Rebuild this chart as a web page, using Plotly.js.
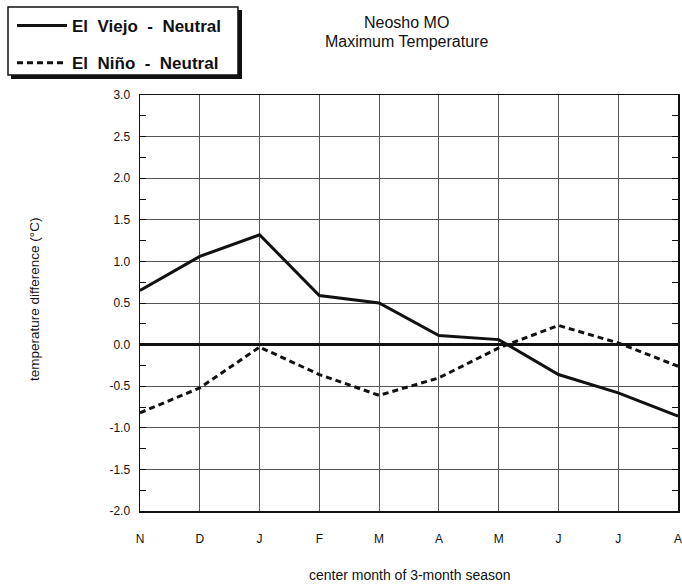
<!DOCTYPE html>
<html>
<head>
<meta charset="utf-8">
<script src="https://cdn.plot.ly/plotly-3.0.1.min.js"></script>
<style>html,body{margin:0;padding:0;background:#fff;}#chart{width:682px;height:585px;}</style>
</head>
<body>
<div id="chart"></div>
<script>
var months = ["N", "D", "J", "F", "M", "A", "M", "J", "J", "A"];
var elViejo = [0.65, 1.06, 1.32, 0.59, 0.50, 0.11, 0.06, -0.36, -0.58, -0.86];
var elNino = [-0.82, -0.52, -0.03, -0.36, -0.61, -0.40, -0.04, 0.23, 0.02, -0.26];
var yTickVals = [3.0, 2.5, 2.0, 1.5, 1.0, 0.5, 0.0, -0.5, -1.0, -1.5, -2.0];
var yTickText = ["3.0", "2.5", "2.0", "1.5", "1.0", "0.5", "0.0", "-0.5", "-1.0", "-1.5", "-2.0"];

var xIdx = months.map(function (m, i) { return i; });
var W = 682, H = 585, L = 140, R = 4, T = 95, B = 74;
var pw = W - L - R, ph = H - T - B;
function px(x) { return (x - L) / pw; }
function py(y) { return (H - B - y) / ph; }

var font = "Liberation Sans, Arial, Helvetica, sans-serif";

var traces = [
  {x: xIdx, y: elViejo, mode: "lines", name: "El  Viejo  -  Neutral", legendgroup: "a",
   line: {color: "#111", width: 3}},
  {x: xIdx, y: elNino, mode: "lines", name: "El  Niño  -  Neutral", legendgroup: "b",
   line: {color: "#111", width: 3, dash: "6px,4px"}}
];

var layout = {
  width: W, height: H,
  margin: {l: L, r: R, t: T, b: B, pad: 0},
  paper_bgcolor: "#fff", plot_bgcolor: "#fff",
  font: {family: font, color: "#111"},
  showlegend: true,
  legend: {x: px(12), y: py(8), xanchor: "left", yanchor: "top",
    bgcolor: "rgba(0,0,0,0)", borderwidth: 0,
    font: {size: 17, family: font, color: "#111", weight: "bold"}, tracegroupgap: 12,
    itemwidth: 50},
  xaxis: {range: [0, 9], tickmode: "array", tickvals: xIdx, ticktext: months,
    showgrid: true, gridcolor: "#555", gridwidth: 1, zeroline: false,
    showline: true, linecolor: "#111", linewidth: 1.5, mirror: true,
    ticks: "", tickfont: {size: 12, family: font, color: "#111"}, ticklabelstandoff: 16,
    ticklabeloverflow: "allow", fixedrange: true},
  yaxis: {range: [-2, 3], tickmode: "array", tickvals: yTickVals, ticktext: yTickText,
    showgrid: true, gridcolor: "#555", gridwidth: 1,
    zeroline: true, zerolinecolor: "#111", zerolinewidth: 3,
    showline: true, linecolor: "#111", linewidth: 1.5, mirror: "allticks",
    ticks: "inside", ticklen: 6, tickcolor: "#111", tickwidth: 1,
    tickfont: {size: 12, family: font, color: "#111"}, ticklabelstandoff: 6,
    minor: {dtick: 0.25, ticks: "inside", ticklen: 6, tickcolor: "#111", showgrid: false},
    fixedrange: true},
  shapes: [
    {type: "rect", xref: "paper", yref: "paper",
     x0: px(11), x1: px(242), y0: py(79), y1: py(10),
     fillcolor: "#111", line: {width: 0}, layer: "below"},
    {type: "rect", xref: "paper", yref: "paper",
     x0: px(8), x1: px(238), y0: py(75), y1: py(7),
     fillcolor: "#fff", line: {width: 1.5, color: "#111"}, layer: "below"}
  ],
  annotations: [
    {text: "Neosho MO", xref: "paper", yref: "paper", x: px(406), y: py(23),
     showarrow: false, xanchor: "center", yanchor: "middle", font: {size: 16, family: font, color: "#111"}},
    {text: "Maximum Temperature", xref: "paper", yref: "paper", x: px(406), y: py(42),
     showarrow: false, xanchor: "center", yanchor: "middle", font: {size: 16, family: font, color: "#111"}},
    {text: "temperature difference (°C)", xref: "paper", yref: "paper",
     x: px(34), y: py(300), textangle: -90, showarrow: false, xanchor: "center", yanchor: "middle",
     font: {size: 13.5, family: font, color: "#111"}},
    {text: "center month of 3-month season", xref: "paper", yref: "paper",
     x: px(410), y: py(575), showarrow: false, xanchor: "center", yanchor: "middle",
     font: {size: 14, family: font, color: "#111"}}
  ]
};

Plotly.newPlot("chart", traces, layout, {displayModeBar: false, staticPlot: true});
</script>
</body>
</html>
